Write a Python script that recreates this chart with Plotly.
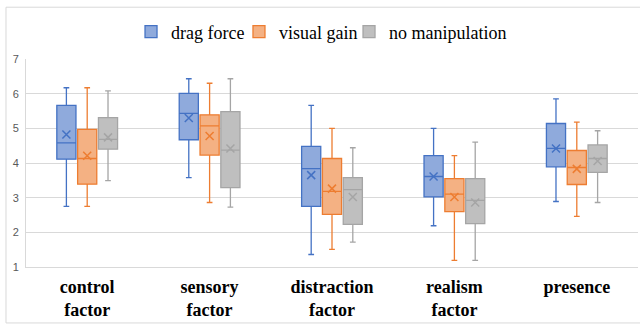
import plotly.graph_objects as go

categories = ["control<br>factor", "sensory<br>factor", "distraction<br>factor", "realism<br>factor", "presence"]
series_names = ["drag force", "visual gain", "no manipulation"]

# per series: lists over categories
lower = {
    "drag force":      [2.75, 3.58, 1.36, 2.19, 2.89],
    "visual gain":     [2.75, 2.86, 1.51, 1.19, 2.46],
    "no manipulation": [3.49, 2.73, 1.72, 1.19, 2.86],
}
q1 = {
    "drag force":      [4.11, 4.67, 2.75, 3.02, 3.89],
    "visual gain":     [3.39, 4.23, 2.52, 2.60, 3.38],
    "no manipulation": [4.40, 3.29, 2.23, 2.25, 3.73],
}
median = {
    "drag force":      [4.58, 5.43, 3.84, 3.61, 4.42],
    "visual gain":     [4.13, 5.07, 3.18, 3.10, 3.87],
    "no manipulation": [4.68, 4.37, 3.23, 2.92, 4.13],
}
q3 = {
    "drag force":      [5.66, 6.01, 4.48, 4.21, 5.14],
    "visual gain":     [4.97, 5.39, 4.13, 3.55, 4.36],
    "no manipulation": [5.31, 5.48, 3.58, 3.55, 4.52],
}
upper = {
    "drag force":      [6.17, 6.43, 5.66, 5.00, 5.85],
    "visual gain":     [6.17, 6.30, 5.00, 4.21, 5.18],
    "no manipulation": [6.08, 6.43, 4.44, 4.60, 4.93],
}
mean = {
    "drag force":      [4.82, 5.30, 3.65, 3.61, 4.42],
    "visual gain":     [4.21, 4.78, 3.26, 3.02, 3.83],
    "no manipulation": [4.74, 4.42, 3.02, 2.86, 4.06],
}
y_ticks = [1, 2, 3, 4, 5, 6, 7]

line_colors = {"drag force": "#4472C4", "visual gain": "#ED7D31", "no manipulation": "#A5A5A5"}
fill_colors = {"drag force": "#8FAADC", "visual gain": "#F4B183", "no manipulation": "#BFBFBF"}
legend_ids = {"drag force": "legend", "visual gain": "legend2", "no manipulation": "legend3"}
legend_x = {"drag force": 0.1716, "visual gain": 0.348, "no manipulation": 0.5278}

fig = go.Figure()
for name in series_names:
    fig.add_trace(go.Box(
        name=name, x=categories,
        q1=q1[name], median=median[name], q3=q3[name],
        lowerfence=lower[name], upperfence=upper[name],
        fillcolor=fill_colors[name],
        line=dict(color=line_colors[name], width=1.3),
        whiskerwidth=0.3, boxpoints=False,
        offsetgroup=name, alignmentgroup="a",
        legend=legend_ids[name],
        hoverinfo="skip",
    ))
for name in series_names:
    fig.add_trace(go.Scatter(
        name=name + " mean", x=categories, y=mean[name], mode="markers",
        marker=dict(symbol="x-thin", size=8, line=dict(color=line_colors[name], width=1.5)),
        offsetgroup=name, alignmentgroup="a",
        showlegend=False, hoverinfo="skip",
    ))

legend_style = dict(orientation="h", xanchor="left", y=1.13, yanchor="middle",
                    font=dict(family="Liberation Serif", size=18, color="#000000"),
                    bgcolor="rgba(0,0,0,0)", itemwidth=30)

fig.update_layout(
    width=640, height=324,
    margin=dict(l=26, r=2, t=59, b=57),
    paper_bgcolor="white", plot_bgcolor="white",
    font=dict(family="Liberation Serif", size=18, color="#000000"),
    boxmode="group", boxgap=0.49, boxgroupgap=0.08,
    scattermode="group", scattergap=0.49,
    legend=dict(x=legend_x["drag force"], **legend_style),
    legend2=dict(x=legend_x["visual gain"], **legend_style),
    legend3=dict(x=legend_x["no manipulation"], **legend_style),
    xaxis=dict(type="category", showgrid=False, showline=True, linecolor="#D9D9D9", linewidth=1,
               ticks="", automargin=False, ticklabelstandoff=3,
               tickfont=dict(family="Liberation Serif", size=18, color="#000000", weight="bold")),
    yaxis=dict(range=[1, 7], tickvals=y_ticks, showgrid=True, gridcolor="#D9D9D9", gridwidth=1,
               showline=True, linecolor="#D9D9D9", linewidth=1, zeroline=False, ticks="",
               ticklabelstandoff=4, automargin=False,
               tickfont=dict(family="Liberation Sans", size=11, color="#595959")),
    shapes=[dict(type="rect", xref="paper", yref="paper", x0=-0.0327, x1=1.05, y0=-0.269, y1=1.249,
                 line=dict(color="#D9D9D9", width=1), layer="below")],
)

fig.write_html("out.html", config={"displayModeBar": False},
               post_script="document.body.style.margin='0';document.body.style.overflow='hidden';")
